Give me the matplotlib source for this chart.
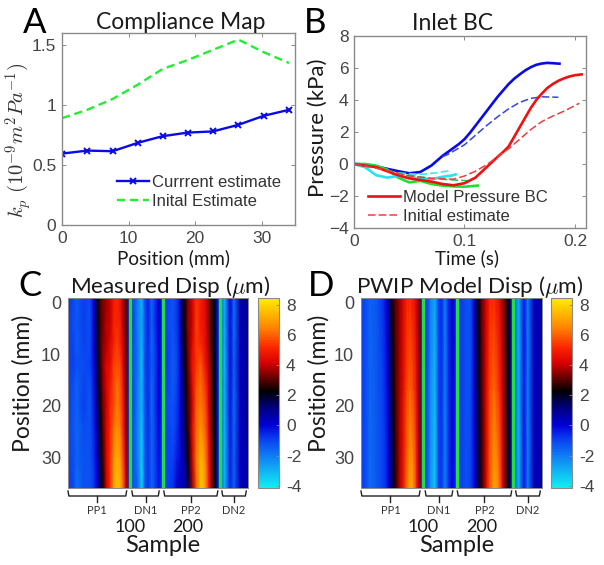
import matplotlib
matplotlib.use('Agg')
import matplotlib.pyplot as plt
from matplotlib.colors import LinearSegmentedColormap, Normalize
from matplotlib.cm import ScalarMappable
from matplotlib.transforms import blended_transform_factory

# Panel A
pos_mm = [0, 3.8, 7.6, 11.4, 15.1, 18.9, 22.7, 26.5, 30.3, 34.1]
kp_current = [0.595, 0.62, 0.615, 0.685, 0.74, 0.77, 0.78, 0.835, 0.91, 0.96]
kp_initial = [0.89, 0.96, 1.05, 1.17, 1.3, 1.375, 1.46, 1.545, 1.44, 1.35]

# Panel B
blue_t = [0, .01, .02, .03, .04, .05, .06, .07, .075, .08, .085, .09, .095, .1, .105, .11, .115, .12, .125, .13, .135,
          .14, .145, .15, .155, .16, .165, .17, .175, .18, .186]
blue_p = [0, -.03, -.15, -.3, -.45, -.58, -.5, -.1, .2, .5, .75, 1, 1.25, 1.55, 1.95, 2.4, 2.85, 3.3, 3.75, 4.2, 4.6,
          5, 5.33, 5.6, 5.85, 6.05, 6.2, 6.28, 6.32, 6.3, 6.27]
blue_dash_t = [.08, .085, .1, .11, .12, .13, .14, .15, .16, .17, .185]
blue_dash_p = [.45, .6, 1.2, 1.8, 2.4, 2.95, 3.45, 3.85, 4.1, 4.2, 4.17]
red_t = [0, .02, .03, .04, .05, .06, .07, .08, .09, .1, .11, .12, .13, .135, .14, .145, .15, .155, .16, .165, .17,
         .175, .18, .185, .19, .195, .2, .206]
red_p = [0, -.2, -.45, -.7, -.9, -1, -1.1, -1.25, -1.33, -1.2, -.85, -.2, .45, .75, 1.1, 1.7, 2.3, 2.9, 3.5, 4, 4.4,
         4.75, 5, 5.2, 5.35, 5.47, 5.55, 5.6]
red_dash_t = [0, .03, .05, .07, .09, .1, .11, .12, .13, .14, .15, .16, .17, .18, .19, .2, .204]
red_dash_p = [0, -.4, -.75, -.9, -.95, -.75, -.45, -.05, .45, .95, 1.55, 2.15, 2.65, 3, 3.3, 3.65, 3.8]
green_t = [0, .01, .02, .03, .04, .05, .06, .07, .08, .09, .1, .112]
green_p = [0, 0, -.1, -.35, -.85, -1.15, -1.05, -1.25, -1.35, -1.4, -1.42, -1.35]
green_dash_t = [.03, .05, .07, .09, .105]
green_dash_p = [-.4, -.7, -.9, -1, -1.05]
cyan_t = [0, .01, .02, .03, .04, .05, .06, .07, .08, .09, .092]
cyan_p = [0, -.2, -.7, -.85, -.75, -.85, -.95, -.95, -.8, -.7, -.65]
cyan_dash_t = [.04, .06, .075, .088]
cyan_dash_p = [-.55, -.65, -.55, -.4]

# Panels C and D, displacement (um) by sample and position
samples = [0, 8, 15, 27, 38, 44, 48, 52, 56, 60, 66, 73, 79, 84, 90, 95, 100, 106, 113, 120, 127, 133, 138, 144,
           150, 156, 164, 172, 181, 188, 194, 198, 202, 207, 214, 221, 228, 236, 242, 247, 251, 255, 261, 270, 279, 286, 296, 310]
meas_pos = [-0.8, 4, 8, 12, 16, 20, 24, 30, 35.8]
meas_disp = [
    [-.8, -1, -1.4, -.9, -1.1, 0, 1.3, 2.2, 3, 3.3, 3.6, 4.1, 4.9, 5.2, 4.6, 3.8, 3, -.5, -1.2, -2, -3, -1, -.5, -1.6,
     -.8, .2, -.5, -1, -1.3, -.8, .5, 1.8, 2.5, 3.4, 4.2, 5.3, 5, 4.4, 3.6, 2.8, 2.2, 1.2, -1, -3, 0, -1.7, .5, .8],
    [-.9, -1.1, -1.3, -.9, -1.2, -.1, 1.2, 2.1, 2.9, 3.2, 3.9, 4, 5.1, 5.1, 5, 3.7, 3.1, -.5, -1.1, -2.1, -2.8, -1.2, -.5, -1.5,
     -.7, .2, -.5, -1.1, -1.2, -.8, .5, 1.7, 2.5, 3.5, 4, 5.5, 4.9, 4.6, 3.5, 2.9, 2.1, 1.2, -1, -2.9, -.1, -1.8, .5, .8],
    [-.9, -1, -1.4, -1, -1.1, -.1, 1, 2, 2.9, 3.4, 3.8, 4.4, 5, 5.5, 5, 4.1, 3.1, -.5, -1.2, -1.9, -3, -1.1, -.6, -1.6,
     -.9, .1, -.6, -1, -1.3, -.9, .3, 1.5, 2.4, 3.3, 4.3, 5.4, 5.2, 4.6, 3.7, 2.9, 2.2, 1.2, -1, -3, -.1, -1.7, .4, .8],
    [-1, -.9, -1.2, -1.1, -1, -.2, .8, 1.9, 2.8, 3.5, 4.3, 4.5, 5.5, 5.6, 5.6, 4.2, 3.2, -.5, -1.3, -1.8, -3.2, -1, -.7, -1.4,
     -1, .1, -.6, -.9, -1.4, -1, .2, 1.3, 2.3, 3.1, 4.6, 5.3, 5.9, 4.8, 4, 3, 2.3, 1.2, -1, -3.1, -.1, -1.5, .4, .8],
    [-1, -1.1, -1.5, -1, -1.2, -.4, .6, 1.7, 2.6, 3.3, 4.2, 4.9, 5.6, 6.2, 5.8, 4.6, 3.3, -.5, -1.2, -2, -3.1, -1.1, -.7, -1.6,
     -.9, 0, -.7, -1, -1.4, -.9, .1, 1.1, 2.1, 2.9, 4.3, 5.7, 6.2, 5.4, 4.2, 3.1, 2.3, 1.3, -1, -3, -.2, -1.6, .4, .8],
    [-.9, -1.2, -1.5, -.9, -1.3, -.5, .4, 1.5, 2.4, 3.2, 4, 5.2, 5.6, 6.4, 5.9, 4.9, 3.4, -.5, -1.1, -2.1, -3, -1.2, -.6, -1.7,
     -.8, 0, -.7, -1.1, -1.2, -.8, .1, .9, 1.9, 2.8, 4, 5.9, 6.3, 5.8, 4.3, 3.2, 2.3, 1.4, -1, -3, -.2, -1.7, .4, .8],
    [-1, -1.2, -1.6, -1.1, -1.2, -.6, .2, 1.2, 2.2, 3, 4.2, 5.2, 6.2, 6.6, 6.3, 5, 3.5, -.5, -1.3, -2.1, -3.3, -1.2, -.7, -1.5,
     -1, -.1, -.8, -1, -1.2, -.7, .1, .8, 1.6, 2.6, 4.3, 6, 6.8, 6, 4.6, 3.3, 2.4, 1.4, -1, -3, -.3, -1.6, .3, .8],
    [-1, -1.1, -1.5, -1.2, -1.2, -.8, -.1, .8, 1.8, 2.7, 4.2, 5.3, 6.7, 7.2, 6.9, 5.5, 3.8, -.5, -1.3, -2, -3.5, -1.2, -.8, -1.5,
     -1, -.2, -.9, -1, -1, -.4, .1, .6, 1.2, 2.2, 4, 6.2, 7.4, 6.6, 5, 3.5, 2.5, 1.4, -1, -3.1, -.4, -1.5, .3, .7],
    [-.9, -1, -1.8, -1.2, -1.2, -.9, -.3, .3, 1.3, 2.4, 4, 5.3, 7.2, 7.5, 7.4, 6, 4, -.5, -1.4, -1.5, -3.6, -1.2, -.8, -1.5,
     -1, -.3, -1, -1, -.7, .3, .3, .4, .6, 1.5, 3.5, 5.8, 7.8, 7, 5.2, 3.6, 2.6, 1.5, -1, -3, -.5, -1.5, .3, .7],
]
model_pos = [-0.8, 17, 35.8]
model_disp = [
    [-.9, -1.1, -1.5, -1.3, -.7, .1, 1, 2, 2.7, 3.1, 3.6, 4.4, 5.1, 5.2, 4.8, 4.2, 3.2, -.5, -1, -2.2, -2.8, -1, -.6, -2,
     -.6, .2, -.6, -.9, -1.2, -1.2, .3, 1.3, 2.3, 3.2, 4.1, 5.2, 5.2, 4.6, 3.8, 3.1, 2.4, 1.5, -1, -3, -.3, -2, .3, .8],
    [-.9, -1.1, -1.6, -1.3, -.9, -.3, .5, 1.5, 2.4, 3, 3.7, 4.6, 5.6, 6, 5.5, 4.6, 3.4, -.5, -1.1, -2.4, -3.1, -1, -.7, -2,
     -.7, .1, -.7, -.9, -1.2, -1.1, .1, 1, 2, 2.9, 4.2, 5.6, 6.1, 5.3, 4.2, 3.2, 2.4, 1.5, -1, -3, -.3, -2, .3, .8],
    [-.9, -1.1, -1.7, -1.3, -1, -.6, .1, 1, 2, 2.7, 3.8, 4.9, 6.3, 7.2, 6.8, 5.2, 3.6, -.5, -1.2, -2.6, -3.4, -1, -.8, -2,
     -.8, 0, -.8, -1, -1.2, -1, -.1, .7, 1.7, 2.7, 4.1, 5.9, 7.2, 6.4, 4.6, 3.3, 2.5, 1.5, -1, -3.1, -.3, -2, .3, .8],
]
green_lines = [106, 164, 261]
bracket_names = ['PP1', 'DN1', 'PP2', 'DN2']
bracket_spans = [(0, 101), (110, 157), (165, 258), (265, 307)]

W, H = 604, 565
TITLE_FONT = 'Lato'
TICK_GRAY = '#454545'
EDGE = '#8a8a8a'

plt.rcParams['font.family'] = ['Liberation Sans', 'DejaVu Sans']
plt.rcParams['mathtext.fontset'] = 'cm'

disp_cmap = LinearSegmentedColormap.from_list('disp', [
    (0.0, '#10f0f0'), (0.14, '#1090f5'), (0.26, '#0a3cf0'), (0.33, '#0000d8'),
    (0.42, '#000080'), (0.50, '#000010'), (0.51, '#000000'), (0.575, '#600000'),
    (0.66, '#d80000'), (0.74, '#fa2500'), (0.84, '#ff8000'), (1.0, '#ffee00')])
disp_norm = Normalize(-4.15, 8.45)


def px_axes(x0, y0, x1, y1):
    return fig.add_axes([x0 / W, 1 - y1 / H, (x1 - x0) / W, (y1 - y0) / H])


def px_text(x, y, s, size, ha='center', va='baseline', **kw):
    kw.setdefault('family', TITLE_FONT)
    kw.setdefault('color', '#1a1a1a')
    fig.text(x / W, 1 - y / H, s, fontsize=size, ha=ha, va=va, **kw)


def style_line_axes(ax):
    ax.tick_params(direction='in', top=True, right=True, length=3, width=0.7, color=EDGE,
                   labelsize=12.5, labelcolor=TICK_GRAY, pad=4)
    for s in ax.spines.values():
        s.set_color(EDGE)
        s.set_linewidth(1.0)


def px_legend(ax, x0, yc):
    leg = ax.legend(loc='center left', bbox_to_anchor=(x0 / W, 1 - yc / H), bbox_transform=fig.transFigure,
                    frameon=False, fontsize=12, handlelength=1.92, handletextpad=0.2, labelspacing=0.27,
                    borderpad=0, borderaxespad=0)
    for t in leg.get_texts():
        t.set_color('#333333')


def heatmap(box, cbar_box, rows, disp, title_x, ylabel_x, title):
    ax = px_axes(*box)
    ax.pcolormesh(samples, rows, disp, cmap=disp_cmap, norm=disp_norm, shading='gouraud', rasterized=True)
    ax.set_xlim(0, 310)
    ax.set_ylim(35.8, -0.8)
    ax.set_xticks([])
    ax.set_yticks([0, 10, 20, 30])
    ax.tick_params(length=0, labelsize=13, labelcolor=TICK_GRAY, pad=5)
    for s in ax.spines.values():
        s.set_color(EDGE)
        s.set_linewidth(0.7)
    for x in green_lines:
        ax.axvline(x, color='#22dd44', lw=2.4)

    # brackets under the map
    tr = blended_transform_factory(ax.transData, ax.transAxes)
    hgt = box[3] - box[1]
    for name, (a, b) in zip(bracket_names, bracket_spans):
        m = (a + b) / 2
        ax.plot([a, a + 1.5, b - 1.5, b], [-3 / hgt, -8 / hgt, -8 / hgt, -3 / hgt], transform=tr,
                color='#222222', lw=1.0, clip_on=False)
        ax.plot([m, m], [-8 / hgt, -14 / hgt], transform=tr, color='#222222', lw=1.0, clip_on=False)
        ax.text(m, -26 / hgt, name, transform=tr, ha='center', va='baseline', fontsize=8,
                family=TITLE_FONT, color='#333333')
    ax.text(107, -44 / hgt, '100', transform=tr, ha='center', va='baseline', fontsize=13,
            family=TITLE_FONT, color='#1a1a1a')
    ax.text(206, -44 / hgt, '200', transform=tr, ha='center', va='baseline', fontsize=13,
            family=TITLE_FONT, color='#1a1a1a')
    ax.text(164, -64 / hgt, 'Sample', transform=tr, ha='center', va='baseline', fontsize=17,
            family=TITLE_FONT, color='#1a1a1a')

    px_text(title_x, 293, title, 16.2)
    px_text(ylabel_x, 383, 'Position (mm)', 16.5, va='center', rotation=90)

    cax = px_axes(*cbar_box)
    cb = fig.colorbar(ScalarMappable(disp_norm, disp_cmap), cax=cax)
    cb.set_ticks([-4, -2, 0, 2, 4, 6, 8])
    cb.set_ticklabels(['-4', '-2', '0', '2', '4', '6', '8'])
    cb.ax.tick_params(length=2, width=0.6, color=EDGE, direction='in', labelsize=12.5, labelcolor=TICK_GRAY, pad=5)
    cb.outline.set_edgecolor(EDGE)


fig = plt.figure(figsize=(W / 100, H / 100), dpi=100, facecolor='white')

# A
ax = px_axes(62, 33, 295, 225)
ax.plot(pos_mm, kp_current, color='#0a0ae6', lw=1.7, marker='x', ms=4.5, mew=1.4, label='Currrent estimate')
ax.plot(pos_mm, kp_initial, color='#22ee33', lw=1.7, ls=(0, (3.5, 2)), label='Inital Estimate')
ax.set_xlim(0, 35)
ax.set_ylim(0, 1.6)
ax.set_xticks([0, 10, 20, 30])
ax.set_yticks([0, 0.5, 1, 1.5])
ax.set_yticklabels(['0', '0.5', '1', '1.5'])
style_line_axes(ax)
px_legend(ax, 117, 192)
px_text(181, 29, 'Compliance Map', 16.5)
px_text(174, 264, 'Position (mm)', 13.5)
fig.text(19 / W, 1 - 140 / H, r'$k_p\ (10^{-9}m^2Pa^{-1})$', fontsize=14.8, rotation=90,
         ha='center', va='center', color='#333333')

# B
ax = px_axes(354, 36, 586, 228)
ax.plot(blue_t, blue_p, color='#0a0ae6', lw=1.9)
ax.plot(blue_dash_t, blue_dash_p, color='#3344dd', lw=1.1, ls=(0, (5, 2)))
ax.plot(green_t, green_p, color='#22dd33', lw=1.9)
ax.plot(green_dash_t, green_dash_p, color='#22cc44', lw=1.1, ls=(0, (5, 2)))
ax.plot(cyan_dash_t, cyan_dash_p, color='#22eeee', lw=1.1, ls=(0, (5, 2)))
ax.plot(cyan_t, cyan_p, color='#22e5f0', lw=1.9)
ax.plot(red_t, red_p, color='#ee1111', lw=1.9, label='Model Pressure BC')
ax.plot(red_dash_t, red_dash_p, color='#e84040', lw=1.1, ls=(0, (5, 2)), label='Initial estimate')
ax.set_xlim(0, 0.21)
ax.set_ylim(-4, 8)
ax.set_xticks([0, 0.1, 0.2])
ax.set_xticklabels(['0', '0.1', '0.2'])
ax.set_yticks([-4, -2, 0, 2, 4, 6, 8])
style_line_axes(ax)
px_legend(ax, 368, 207)
px_text(453, 30, 'Inlet BC', 16.5)
px_text(467, 264, 'Time (s)', 13.5)
px_text(318, 128, 'Pressure (kPa)', 16, va='center', rotation=90)

# C and D
heatmap((68, 298, 248, 488), (258, 298, 279, 488), meas_pos, meas_disp, 170, 23, r'Measured Disp ($\mu$m)')
heatmap((361, 298, 542, 488), (551, 298, 572, 488), model_pos, model_disp, 470, 319, r'PWIP Model Disp ($\mu$m)')

# panel letters
for letter, x, y in [('A', 35, 33), ('B', 315, 33), ('C', 30, 296), ('D', 321, 296)]:
    px_text(x, y, letter, 25, color='black')

plt.savefig('out.png', dpi=100)
